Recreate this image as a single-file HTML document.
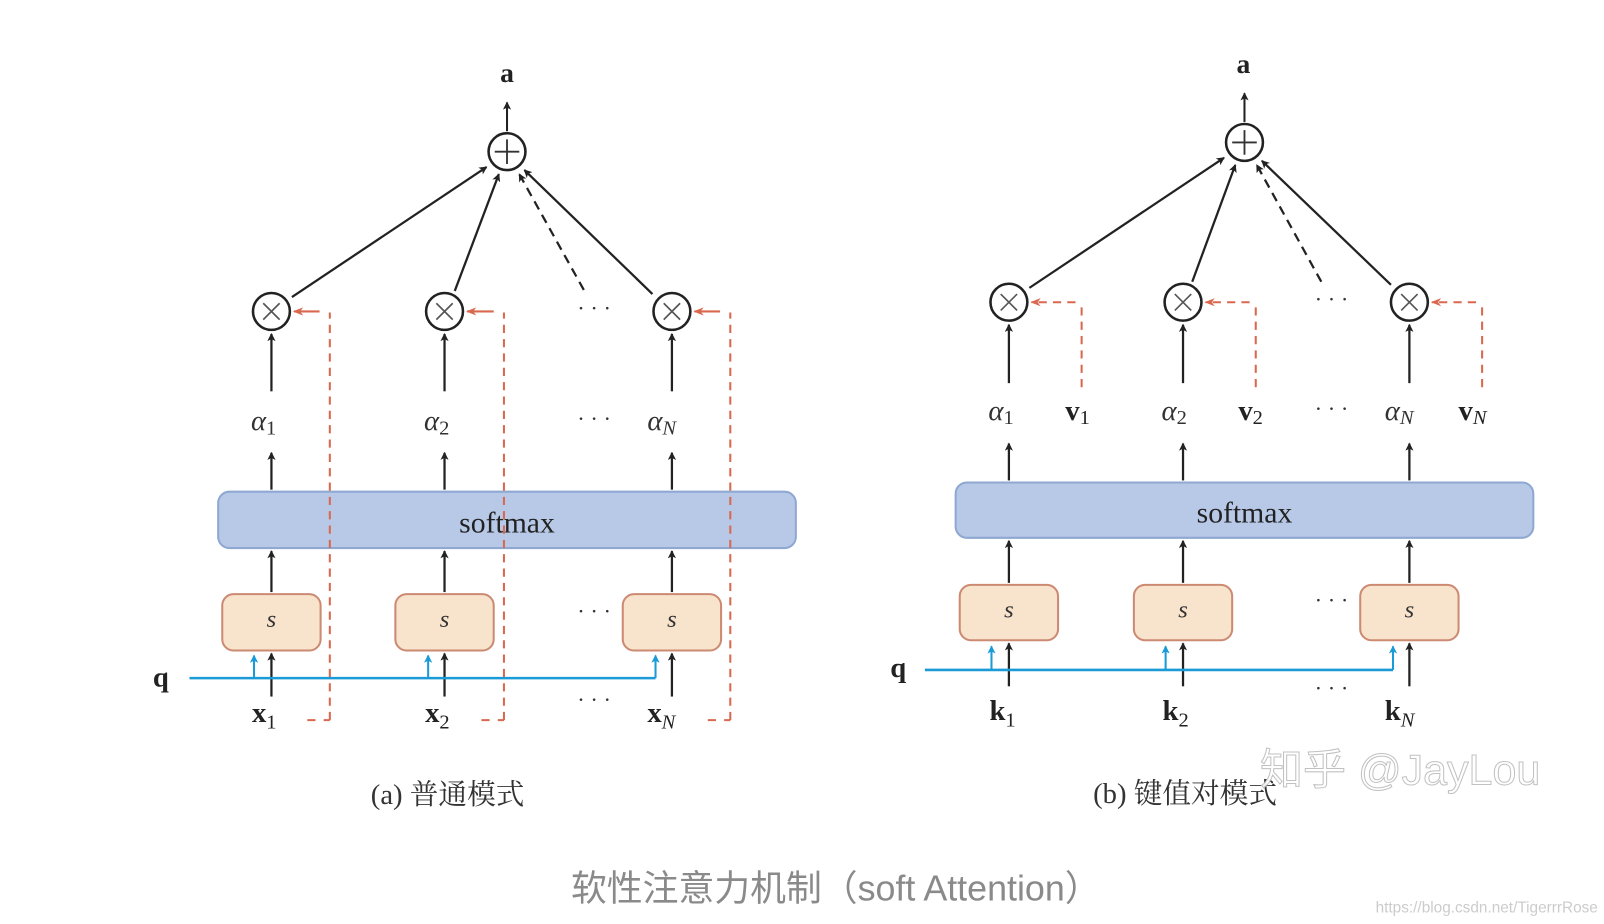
<!DOCTYPE html>
<html><head><meta charset="utf-8"><style>html,body{margin:0;padding:0;background:#fff;}svg{display:block}</style></head>
<body>
<svg width="1604" height="924" viewBox="0 0 1566 902" xmlns="http://www.w3.org/2000/svg" font-family="'Liberation Serif','Noto Serif CJK SC',serif">
<defs>
<marker id="ak" markerWidth="8" markerHeight="8" refX="7" refY="4" orient="auto" markerUnits="userSpaceOnUse"><path d="M0,0 L8,4 L0,8 L2,4z" fill="#222"/></marker>
<marker id="ar" markerWidth="10" markerHeight="8" refX="9" refY="4" orient="auto" markerUnits="userSpaceOnUse"><path d="M0,0 L10,4 L0,8 L3,4z" fill="#d9684f"/></marker>
<marker id="ab" markerWidth="8" markerHeight="8" refX="7" refY="4" orient="auto" markerUnits="userSpaceOnUse"><path d="M0,0 L8,4 L0,8 L2,4z" fill="#1a9ad6"/></marker>
</defs>
<g id="A">
<text x="495" y="80" font-size="27" font-weight="bold" text-anchor="middle" fill="#222">a</text>
<line x1="495" y1="128" x2="495" y2="100" stroke="#222" stroke-width="2" marker-end="url(#ak)"/>
<circle cx="495" cy="148" r="18" fill="#fff" stroke="#222" stroke-width="2.5"/>
<path d="M483,148h24M495,136v24" stroke="#333" stroke-width="1.8"/>
<g stroke="#222" stroke-width="2.2" fill="none">
<line x1="285" y1="290" x2="475" y2="163" marker-end="url(#ak)"/>
<line x1="444" y1="284" x2="487" y2="170" marker-end="url(#ak)"/>
<line x1="637" y1="287" x2="512" y2="166" marker-end="url(#ak)"/>
<line x1="570" y1="283" x2="507" y2="170" stroke-dasharray="9,6" marker-end="url(#ak)"/>
</g>
<g stroke="#222" stroke-width="2.5" fill="#fff">
<circle cx="265" cy="304" r="18"/><circle cx="434" cy="304" r="18"/><circle cx="656" cy="304" r="18"/>
</g>
<g stroke="#555" stroke-width="1.6"><path d="M257,296l16,16M273,296l-16,16M426,296l16,16M442,296l-16,16M648,296l16,16M664,296l-16,16"/></g>
<g stroke="#222" stroke-width="2.2">
<line x1="265" y1="382" x2="265" y2="326" marker-end="url(#ak)"/>
<line x1="434" y1="382" x2="434" y2="326" marker-end="url(#ak)"/>
<line x1="656" y1="382" x2="656" y2="326" marker-end="url(#ak)"/>
<line x1="265" y1="478" x2="265" y2="442" marker-end="url(#ak)"/>
<line x1="434" y1="478" x2="434" y2="442" marker-end="url(#ak)"/>
<line x1="656" y1="478" x2="656" y2="442" marker-end="url(#ak)"/>
<line x1="265" y1="578" x2="265" y2="538" marker-end="url(#ak)"/>
<line x1="434" y1="578" x2="434" y2="538" marker-end="url(#ak)"/>
<line x1="656" y1="578" x2="656" y2="538" marker-end="url(#ak)"/>
<line x1="265" y1="680" x2="265" y2="638" marker-end="url(#ak)"/>
<line x1="434" y1="680" x2="434" y2="638" marker-end="url(#ak)"/>
<line x1="656" y1="680" x2="656" y2="638" marker-end="url(#ak)"/>
</g>
<rect x="213" y="480" width="564" height="55" rx="11" fill="#b8c9e8" stroke="#8fa8d2" stroke-width="2"/>
<text x="495" y="520" font-size="29" text-anchor="middle" fill="#222">softmax</text>
<g stroke="#d9684f" stroke-width="2" fill="none" stroke-dasharray="8,6">
<path d="M322,703V305"/><path d="M492,703V305"/><path d="M713,703V305"/>
<path d="M300,703h22M470,703h22M691,703h22" stroke-dasharray="8,8"/>
</g>
<g stroke="#d9684f" stroke-width="2"><line x1="312" y1="304" x2="287" y2="304" marker-end="url(#ar)"/><line x1="482" y1="304" x2="456" y2="304" marker-end="url(#ar)"/><line x1="703" y1="304" x2="678" y2="304" marker-end="url(#ar)"/></g>
<g fill="#f8e4cd" stroke="#cc8a72" stroke-width="2">
<rect x="217" y="580" width="96" height="55" rx="11"/><rect x="386" y="580" width="96" height="55" rx="11"/><rect x="608" y="580" width="96" height="55" rx="11"/>
</g>
<g font-size="24" font-style="italic" text-anchor="middle" fill="#333"><text x="265" y="612">s</text><text x="434" y="612">s</text><text x="656" y="612">s</text></g>
<line x1="185" y1="662" x2="640" y2="662" stroke="#1a9ad6" stroke-width="2.5"/>
<g stroke="#1a9ad6" stroke-width="2"><line x1="248" y1="662" x2="248" y2="640" marker-end="url(#ab)"/><line x1="418" y1="662" x2="418" y2="640" marker-end="url(#ab)"/><line x1="640" y1="662" x2="640" y2="640" marker-end="url(#ab)"/></g>
<text x="157" y="670" font-size="28" font-weight="bold" text-anchor="middle" fill="#222">q</text>
<g font-size="28" fill="#333"><text x="245" y="420" font-style="italic">α<tspan font-size="20" font-style="normal" dy="4">1</tspan></text><text x="414" y="420" font-style="italic">α<tspan font-size="20" font-style="normal" dy="4">2</tspan></text><text x="632" y="420" font-style="italic">α<tspan font-size="20" dy="4">N</tspan></text></g>
<g font-size="28" font-weight="bold" fill="#222"><text x="246" y="705">x<tspan font-size="20" font-weight="normal" dy="6">1</tspan></text><text x="415" y="705">x<tspan font-size="20" font-weight="normal" dy="6">2</tspan></text><text x="632" y="705">x<tspan font-size="20" font-weight="normal" font-style="italic" dy="6">N</tspan></text></g>
<g font-size="22" fill="#333" text-anchor="middle"><text x="580" y="308">· · ·</text><text x="580" y="416">· · ·</text><text x="580" y="604">· · ·</text><text x="580" y="690">· · ·</text></g>
<text x="437" y="785" font-size="28" text-anchor="middle" fill="#333">(a) 普通模式</text>
</g>
<g id="B">
<text x="1214" y="71" font-size="27" font-weight="bold" text-anchor="middle" fill="#222">a</text>
<line x1="1215" y1="119" x2="1215" y2="91" stroke="#222" stroke-width="2" marker-end="url(#ak)"/>
<circle cx="1215" cy="139" r="18" fill="#fff" stroke="#222" stroke-width="2.5"/>
<path d="M1203,139h24M1215,127v24" stroke="#333" stroke-width="1.8"/>
<g stroke="#222" stroke-width="2.2" fill="none">
<line x1="1005" y1="281" x2="1195" y2="154" marker-end="url(#ak)"/>
<line x1="1164" y1="275" x2="1206" y2="161" marker-end="url(#ak)"/>
<line x1="1358" y1="278" x2="1232" y2="157" marker-end="url(#ak)"/>
<line x1="1290" y1="275" x2="1227" y2="161" stroke-dasharray="9,6" marker-end="url(#ak)"/>
</g>
<g stroke="#222" stroke-width="2.5" fill="#fff">
<circle cx="985" cy="295" r="18"/><circle cx="1155" cy="295" r="18"/><circle cx="1376" cy="295" r="18"/>
</g>
<g stroke="#555" stroke-width="1.6"><path d="M977,287l16,16M993,287l-16,16M1147,287l16,16M1163,287l-16,16M1368,287l16,16M1384,287l-16,16"/></g>
<g stroke="#222" stroke-width="2.2">
<line x1="985" y1="374" x2="985" y2="317" marker-end="url(#ak)"/>
<line x1="1155" y1="374" x2="1155" y2="317" marker-end="url(#ak)"/>
<line x1="1376" y1="374" x2="1376" y2="317" marker-end="url(#ak)"/>
<line x1="985" y1="469" x2="985" y2="433" marker-end="url(#ak)"/>
<line x1="1155" y1="469" x2="1155" y2="433" marker-end="url(#ak)"/>
<line x1="1376" y1="469" x2="1376" y2="433" marker-end="url(#ak)"/>
<line x1="985" y1="569" x2="985" y2="528" marker-end="url(#ak)"/>
<line x1="1155" y1="569" x2="1155" y2="528" marker-end="url(#ak)"/>
<line x1="1376" y1="569" x2="1376" y2="528" marker-end="url(#ak)"/>
<line x1="985" y1="670" x2="985" y2="628" marker-end="url(#ak)"/>
<line x1="1155" y1="670" x2="1155" y2="628" marker-end="url(#ak)"/>
<line x1="1376" y1="670" x2="1376" y2="628" marker-end="url(#ak)"/>
</g>
<rect x="933" y="471" width="564" height="54" rx="11" fill="#b8c9e8" stroke="#8fa8d2" stroke-width="2"/>
<text x="1215" y="510" font-size="29" text-anchor="middle" fill="#222">softmax</text>
<g stroke="#d9684f" stroke-width="2" fill="none" stroke-dasharray="8,6"><path d="M1056,378V296"/><path d="M1226,378V296"/><path d="M1447,378V296"/></g>
<g stroke="#d9684f" stroke-width="2"><line x1="1050" y1="295" x2="1007" y2="295" stroke-dasharray="8,6" marker-end="url(#ar)"/><line x1="1220" y1="295" x2="1177" y2="295" stroke-dasharray="8,6" marker-end="url(#ar)"/><line x1="1441" y1="295" x2="1398" y2="295" stroke-dasharray="8,6" marker-end="url(#ar)"/></g>
<g fill="#f8e4cd" stroke="#cc8a72" stroke-width="2">
<rect x="937" y="571" width="96" height="54" rx="11"/><rect x="1107" y="571" width="96" height="54" rx="11"/><rect x="1328" y="571" width="96" height="54" rx="11"/>
</g>
<g font-size="24" font-style="italic" text-anchor="middle" fill="#333"><text x="985" y="603">s</text><text x="1155" y="603">s</text><text x="1376" y="603">s</text></g>
<line x1="903" y1="654" x2="1360" y2="654" stroke="#1a9ad6" stroke-width="2.5"/>
<g stroke="#1a9ad6" stroke-width="2"><line x1="968" y1="654" x2="968" y2="631" marker-end="url(#ab)"/><line x1="1138" y1="654" x2="1138" y2="631" marker-end="url(#ab)"/><line x1="1360" y1="654" x2="1360" y2="631" marker-end="url(#ab)"/></g>
<text x="877" y="661" font-size="28" font-weight="bold" text-anchor="middle" fill="#222">q</text>
<g font-size="28" fill="#333"><text x="965" y="410" font-style="italic">α<tspan font-size="20" font-style="normal" dy="4">1</tspan></text><text x="1134" y="410" font-style="italic">α<tspan font-size="20" font-style="normal" dy="4">2</tspan></text><text x="1352" y="410" font-style="italic">α<tspan font-size="20" dy="4">N</tspan></text></g>
<g font-size="28" font-weight="bold" fill="#222"><text x="1040" y="410">v<tspan font-size="20" font-weight="normal" dy="4">1</tspan></text><text x="1209" y="410">v<tspan font-size="20" font-weight="normal" dy="4">2</tspan></text><text x="1424" y="410">v<tspan font-size="20" font-weight="normal" font-style="italic" dy="4">N</tspan></text></g>
<g font-size="28" font-weight="bold" fill="#222"><text x="966" y="703">k<tspan font-size="20" font-weight="normal" dy="6">1</tspan></text><text x="1135" y="703">k<tspan font-size="20" font-weight="normal" dy="6">2</tspan></text><text x="1352" y="703">k<tspan font-size="20" font-weight="normal" font-style="italic" dy="6">N</tspan></text></g>
<g font-size="22" fill="#333" text-anchor="middle"><text x="1300" y="299">· · ·</text><text x="1300" y="406">· · ·</text><text x="1300" y="593">· · ·</text><text x="1300" y="679">· · ·</text></g>
<text x="1157" y="784" font-size="28" text-anchor="middle" fill="#333">(b) 键值对模式</text>
</g>
<text x="1367" y="766" font-size="42" text-anchor="middle" fill="#fff" stroke="#bbb" stroke-width="1" font-family="'Liberation Sans','Noto Sans CJK SC',sans-serif" opacity="0.9">知乎 @JayLou</text>
<text x="816" y="879" font-size="35" text-anchor="middle" fill="#8a8a8a" font-family="'Liberation Sans','Noto Sans CJK SC',sans-serif">软性注意力机制（soft Attention）</text>
<text x="1560" y="891" font-size="15" text-anchor="end" fill="#ccc" font-family="'Liberation Sans',sans-serif">https://blog.csdn.net/TigerrrRose</text>
</svg>
</body></html>
